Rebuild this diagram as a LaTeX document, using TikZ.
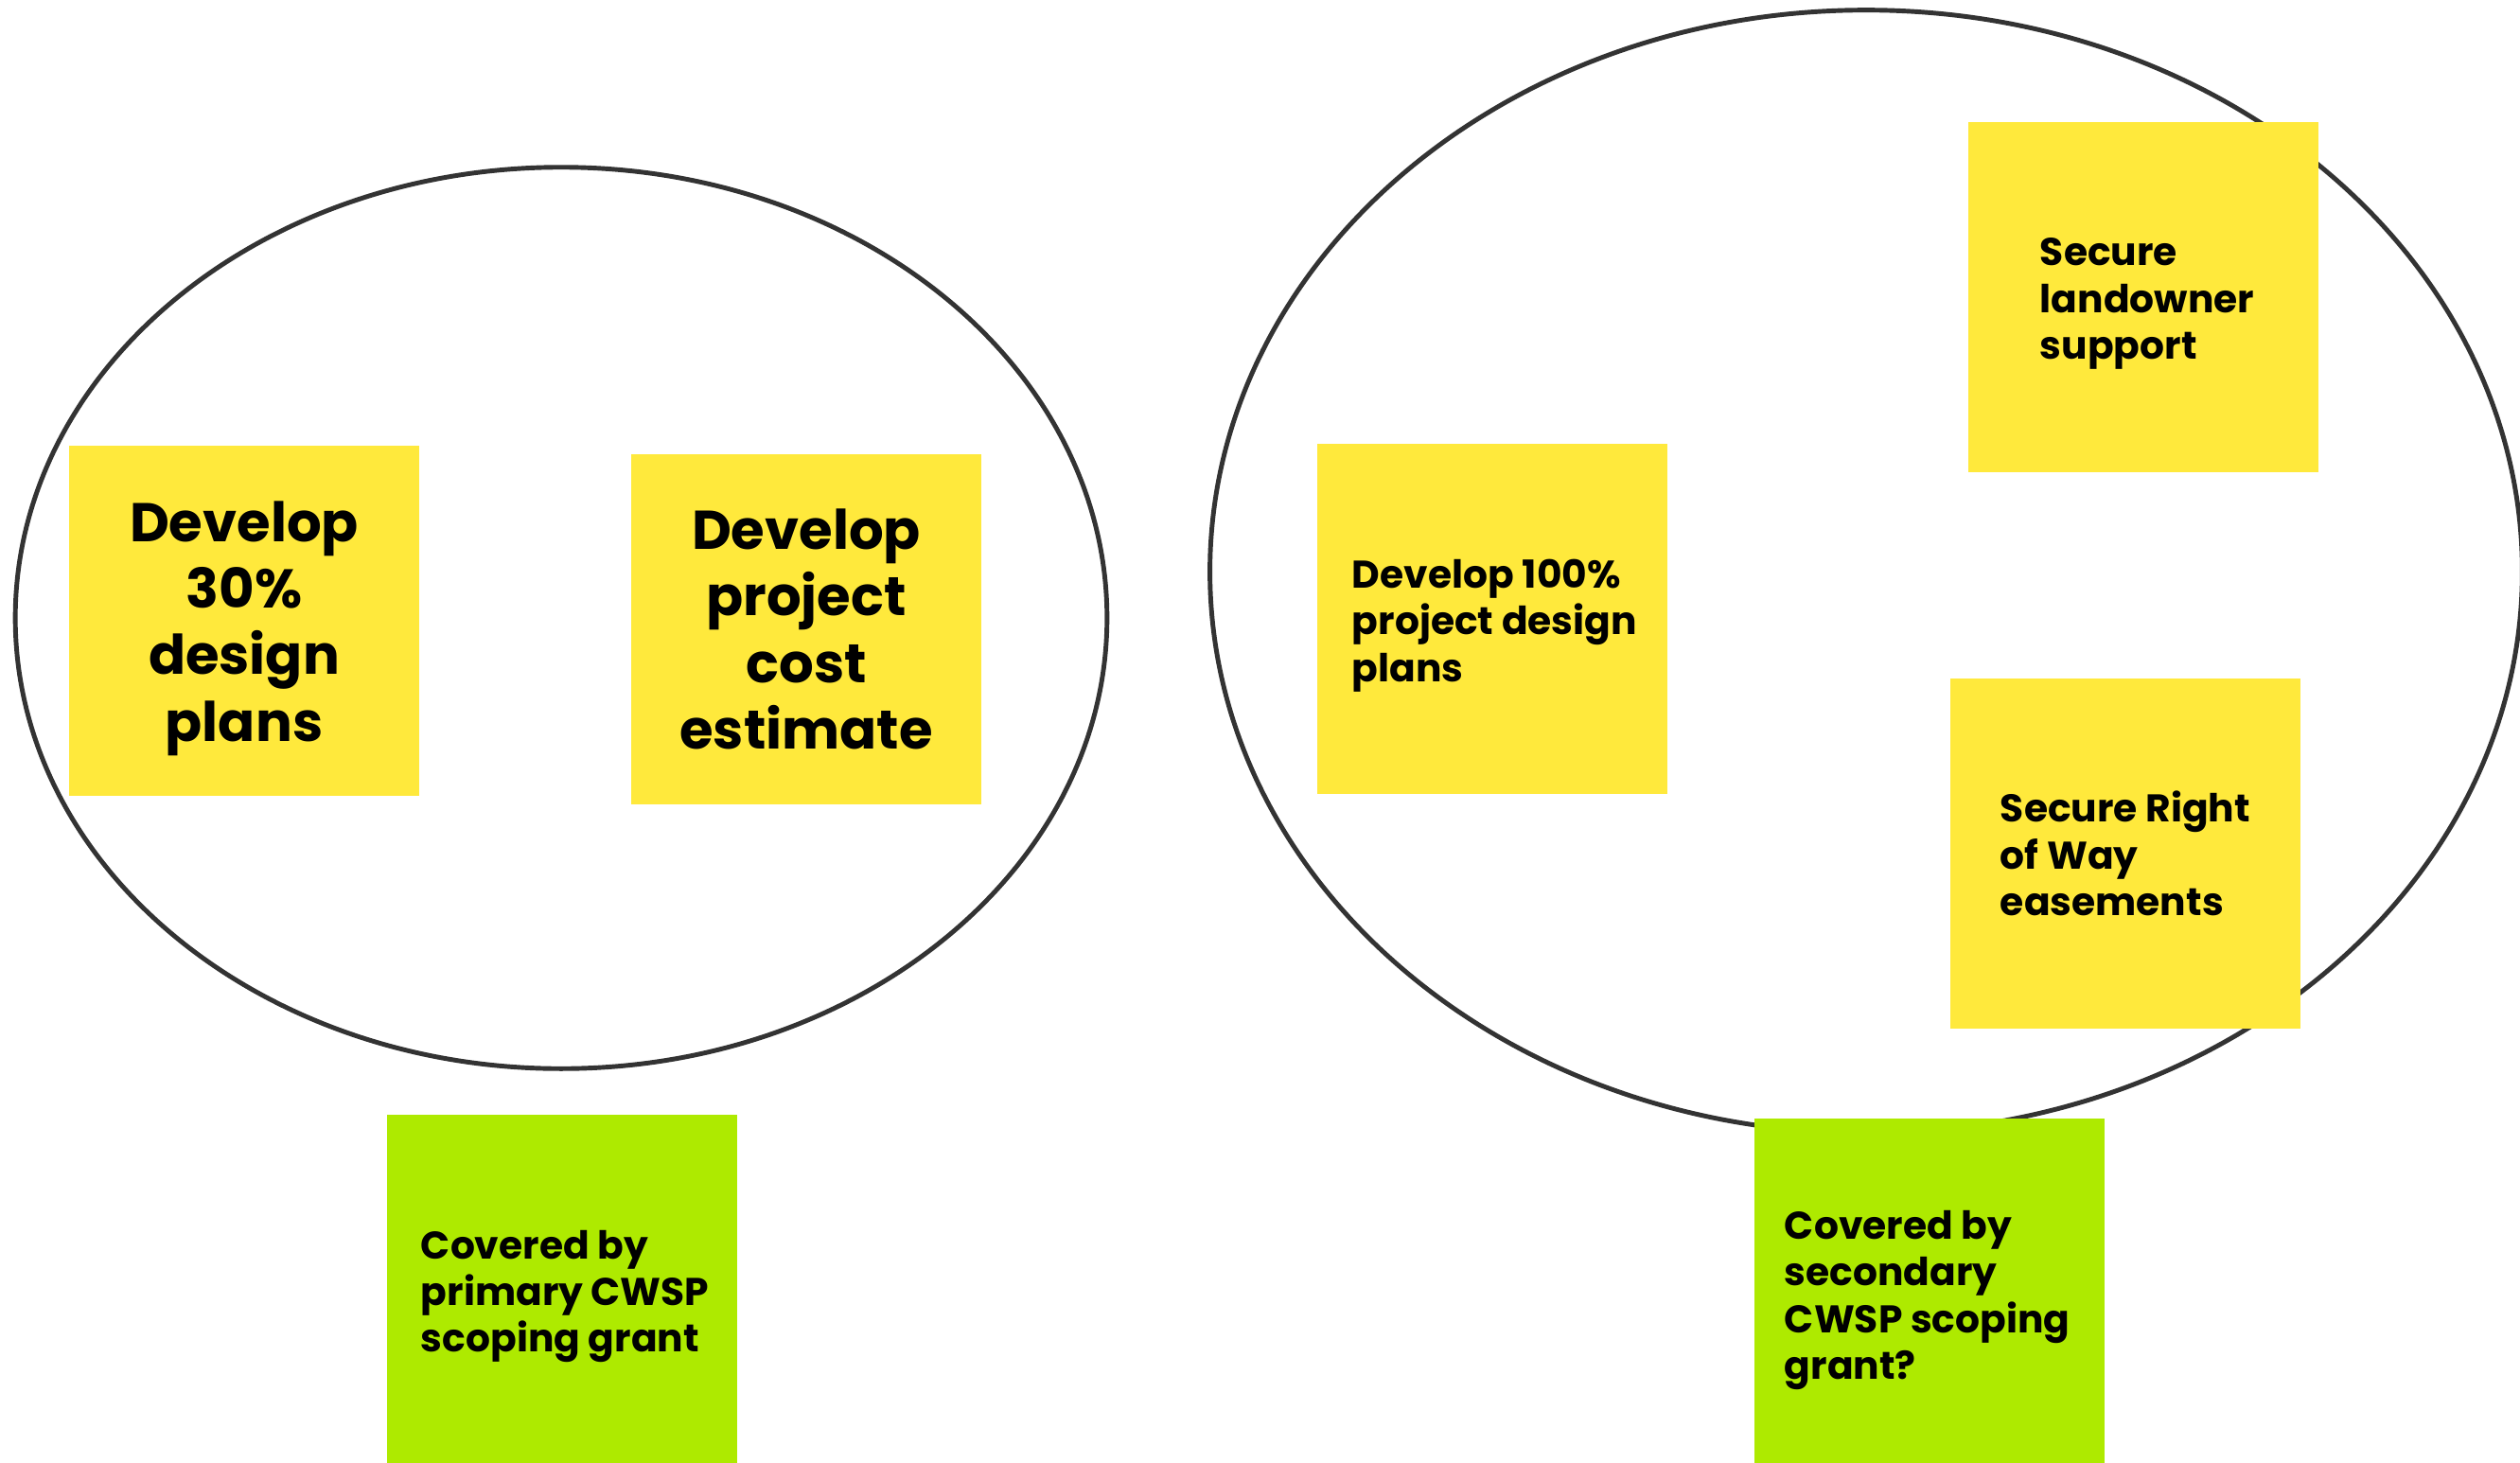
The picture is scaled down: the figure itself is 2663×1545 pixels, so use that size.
\documentclass[tikz,border=0pt]{standalone}
\usepackage{fontspec}
\setmainfont{Poppins}
\usetikzlibrary{shapes.geometric}
\definecolor{sticky}{HTML}{FFE93C}
\definecolor{limenote}{HTML}{AEEA00}
\definecolor{ringcol}{HTML}{333333}
\tikzset{
  ring/.style={ellipse, draw=ringcol, line width=1.4pt, inner sep=0pt},
  note/.style={rectangle, inner sep=0pt, minimum width=3.7cm, minimum height=3.7cm},
  yellownote/.style={note, fill=sticky},
  greennote/.style={note, fill=limenote},
  bigtext/.style={align=center, font=\bfseries\fontsize{16.4}{20}\selectfont, text=black, yshift=-0.08cm},
  smalltext/.style={anchor=west, align=left, font=\bfseries\fontsize{11.6}{14}\selectfont, text=black, inner sep=0pt, yshift=-0.07cm}
}
\begin{document}
\begin{tikzpicture}[x=0.01cm, y=-0.01cm]
\useasboundingbox (0,0) rectangle (2663,1545);
\clip (0,0) rectangle (2663,1545);
\fill[white] (0,0) rectangle (2663,1545);
% ellipses
\node[ring, minimum width=11.53cm, minimum height=9.52cm] (ellL) at (593,653) {};
\node[ring, minimum width=13.86cm, minimum height=11.86cm] (ellR) at (1972,604) {};
% left group
\node[yellownote] (nA) at (258,656) {};
\node[bigtext] (tA) at (nA.center) {Develop\\30\%\\design\\plans};
\node[yellownote] (nB) at (852,665) {};
\node[bigtext, yshift=0.08cm] (tB) at (nB.center) {Develop\\project\\cost\\estimate};
% right group
\node[yellownote] (nC) at (1577,654) {};
\node[smalltext] (tC) at ([xshift=0.37cm]nC.west) {Develop 100\%\\project design\\plans};
\node[yellownote] (nD) at (2265,314) {};
\node[smalltext] (tD) at ([xshift=0.76cm]nD.west) {Secure\\landowner\\support};
\node[yellownote] (nE) at (2246,902) {};
\node[smalltext, yshift=0.07cm] (tE) at ([xshift=0.53cm]nE.west) {Secure Right\\of Way\\easements};
% green notes
\node[greennote] (nF) at (594,1363) {};
\node[smalltext] (tF) at ([xshift=0.36cm]nF.west) {Covered by\\primary CWSP\\scoping grant};
\node[greennote] (nG) at (2039,1367) {};
\node[smalltext] (tG) at ([xshift=0.32cm]nG.west) {Covered by\\secondary\\CWSP scoping\\grant?};
\end{tikzpicture}
\end{document}
